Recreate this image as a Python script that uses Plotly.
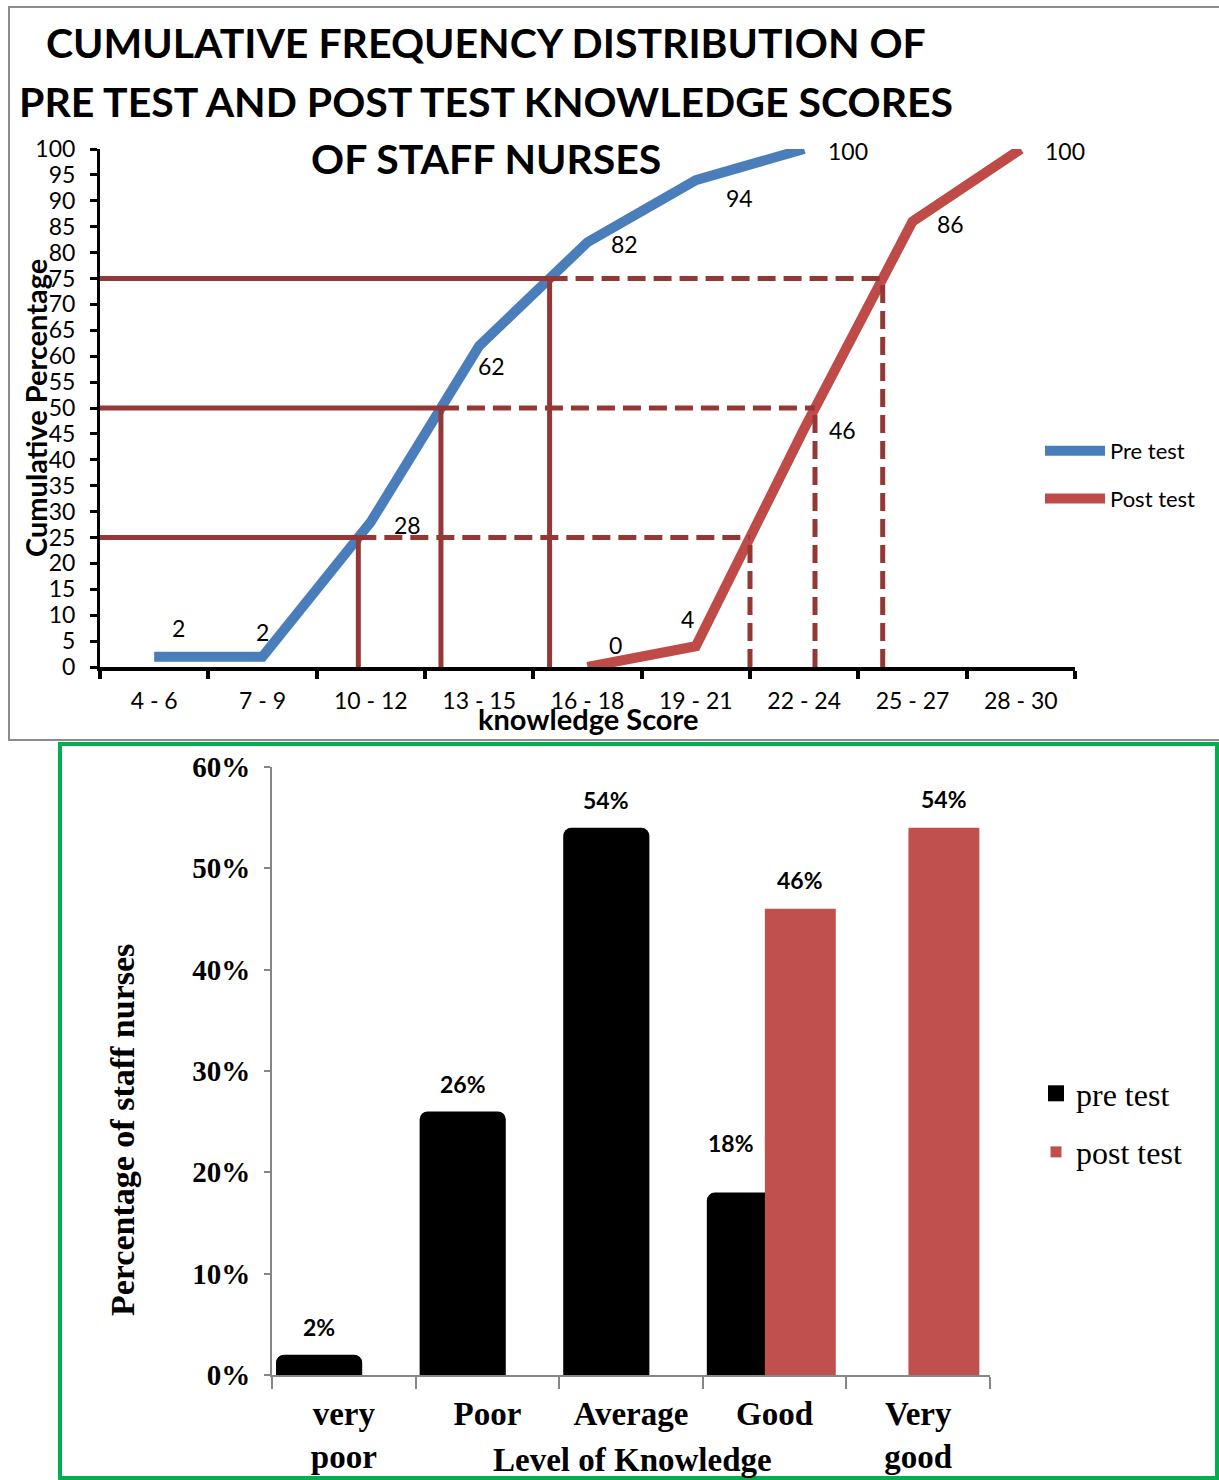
import numpy as np
import plotly.graph_objects as go

W, H = 1219, 1480

# ---- cumulative frequency data (top chart) ----
score_ranges = ["4 - 6", "7 - 9", "10 - 12", "13 - 15", "16 - 18",
                "19 - 21", "22 - 24", "25 - 27", "28 - 30"]
pre_cum = [2, 2, 28, 62, 82, 94, 100, None, None]
post_cum = [None, None, None, None, 0, 4, 46, 86, 100]
quartile_levels = [25, 50, 75]

# ---- level of knowledge data (bottom chart) ----
knowledge_levels = ["very<br>poor", "Poor", "Average", "Good", "Very<br>good"]
pre_pct = [2, 26, 54, 18, None]
post_pct = [None, None, None, 46, 54]

BLUE = "#4A7EBB"
RED = "#BE4B48"
BAR_RED = "#C0504D"
REF = "#953735"
SANS = "Lato"
SERIF = "Liberation Serif"


def px(x):
    return x / W


def py(y):
    return 1 - y / H


fig = go.Figure()

# ---------------- top chart ----------------
fig.add_trace(go.Scatter(
    x=score_ranges, y=pre_cum, mode="lines", name="Pre test",
    line=dict(color=BLUE, width=10), legend="legend", legendgroup="pre",
    xaxis="x", yaxis="y", connectgaps=False))
fig.add_trace(go.Scatter(
    x=score_ranges, y=post_cum, mode="lines", name="Post test",
    line=dict(color=RED, width=10), legend="legend", legendgroup="post",
    xaxis="x", yaxis="y", connectgaps=False))

# value labels beside the line vertices (pixel nudges)
pre_label_shift = [(24, 29), (0, 25), (37, -3), (12, -20), (37, -2), (44, -18), (44, -2)]
post_label_shift = [(28, 22), (-8, 27), (38, -1), (38, -2), (44, -2)]

annotations = []
pre_idx = [i for i, v in enumerate(pre_cum) if v is not None]
post_idx = [i for i, v in enumerate(post_cum) if v is not None]
for (dx, dy), i in zip(pre_label_shift, pre_idx):
    annotations.append(dict(x=i, y=pre_cum[i], xref="x", yref="y", text=str(pre_cum[i]),
                            showarrow=False, xshift=dx, yshift=dy,
                            font=dict(family=SANS, size=23, color="black")))
for (dx, dy), i in zip(post_label_shift, post_idx):
    annotations.append(dict(x=i, y=post_cum[i], xref="x", yref="y", text=str(post_cum[i]),
                            showarrow=False, xshift=dx, yshift=dy,
                            font=dict(family=SANS, size=23, color="black")))

pre_x = np.array(pre_idx, dtype=float)
pre_y = np.array([pre_cum[i] for i in pre_idx], dtype=float)
post_x = np.array(post_idx, dtype=float)
post_y = np.array([post_cum[i] for i in post_idx], dtype=float)

shapes = []
for lvl in quartile_levels:
    xa = float(np.interp(lvl, pre_y, pre_x))
    xb = float(np.interp(lvl, post_y, post_x))
    solid = dict(color=REF, width=5)
    dashed = dict(color=REF, width=5, dash="18px,8px")
    shapes.append(dict(type="line", xref="x", yref="y", x0=-0.5, x1=xa, y0=lvl, y1=lvl, line=solid))
    shapes.append(dict(type="line", xref="x", yref="y", x0=xa, x1=xb, y0=lvl, y1=lvl, line=dashed))
    shapes.append(dict(type="line", xref="x", yref="y", x0=xa, x1=xa, y0=0, y1=lvl, line=solid))
    shapes.append(dict(type="line", xref="x", yref="y", x0=xb, x1=xb, y0=0, y1=lvl, line=dashed))

# ---------------- bottom chart ----------------
PRE_OFF, PRE_W = -0.472, 0.60
POST_OFF, POST_W = -0.068, 0.494

fig.add_trace(go.Bar(
    x=knowledge_levels, y=pre_pct, name="pre test", xaxis="x2", yaxis="y2",
    marker=dict(color="#000000", cornerradius=8, line=dict(width=0)),
    offset=PRE_OFF, width=PRE_W, legendgroup="b_pre", showlegend=False))
fig.add_trace(go.Bar(
    x=knowledge_levels, y=post_pct, name="post test", xaxis="x2", yaxis="y2",
    marker=dict(color=BAR_RED, line=dict(width=0)),
    offset=POST_OFF, width=POST_W, legendgroup="b_post", showlegend=False))

# legend keys for the bars (square swatches)
fig.add_trace(go.Scatter(
    x=[None], y=[None], mode="markers", name="pre test", xaxis="x2", yaxis="y2",
    marker=dict(symbol="square", size=16, color="#000000"),
    legend="legend2", legendgroup="b_pre"))
fig.add_trace(go.Scatter(
    x=[None], y=[None], mode="markers", name="post test", xaxis="x2", yaxis="y2",
    marker=dict(symbol="square", size=11, color=BAR_RED),
    legend="legend2", legendgroup="b_post"))

for i, v in enumerate(pre_pct):
    if v is None:
        continue
    shared = post_pct[i] is not None
    annotations.append(dict(
        x=i + PRE_OFF + PRE_W / 2, y=v, xref="x2", yref="y2", text=f"{v}%",
        showarrow=False, yanchor="middle",
        xshift=-19 if shared else 0, yshift=50 if shared else 28,
        font=dict(family=SANS, size=23, color="black", weight="bold")))
for i, v in enumerate(post_pct):
    if v is None:
        continue
    annotations.append(dict(
        x=i + POST_OFF + POST_W / 2, y=v, xref="x2", yref="y2", text=f"{v}%",
        showarrow=False, yanchor="middle", yshift=29,
        font=dict(family=SANS, size=23, color="black", weight="bold")))

# titles
title_lines = ["CUMULATIVE FREQUENCY DISTRIBUTION OF",
               "PRE TEST AND POST TEST KNOWLEDGE SCORES",
               "OF STAFF NURSES"]
for line, yc in zip(title_lines, [42, 101, 159]):
    annotations.append(dict(x=px(486), y=py(yc), xref="paper", yref="paper", text=line,
                            showarrow=False, xanchor="center", yanchor="middle",
                            font=dict(family=SANS, size=41, color="black", weight="bold")))

annotations += [
    dict(x=px(35), y=py(408), xref="paper", yref="paper", text="Cumulative Percentage",
         textangle=-90, showarrow=False, xanchor="center", yanchor="middle",
         font=dict(family=SANS, size=29, color="black", weight="bold")),
    dict(x=px(588), y=py(718), xref="paper", yref="paper", text="knowledge Score",
         showarrow=False, xanchor="center", yanchor="middle",
         font=dict(family=SANS, size=29, color="black", weight="bold")),
    dict(x=px(122), y=py(1130), xref="paper", yref="paper", text="Percentage of staff nurses",
         textangle=-90, showarrow=False, xanchor="center", yanchor="middle",
         font=dict(family=SERIF, size=34, color="black", weight="bold")),
    dict(x=px(632), y=py(1460), xref="paper", yref="paper", text="Level of Knowledge",
         showarrow=False, xanchor="center", yanchor="middle",
         font=dict(family=SERIF, size=33, color="black", weight="bold")),
]

# panel frames
shapes += [
    dict(type="rect", xref="paper", yref="paper", x0=px(9), x1=px(1230), y0=py(740), y1=py(7),
         line=dict(color="#8C8C8C", width=2), layer="below"),
    dict(type="rect", xref="paper", yref="paper", x0=px(60), x1=px(1217), y0=py(1478), y1=py(744),
         line=dict(color="#00B050", width=4), layer="below"),
]

fig.update_layout(
    width=W, height=H,
    margin=dict(l=0, r=0, t=0, b=0, autoexpand=False),
    paper_bgcolor="white", plot_bgcolor="rgba(0,0,0,0)",
    barmode="overlay",
    showlegend=True,
    xaxis=dict(domain=[px(100), px(1075)], anchor="y", type="category", automargin=False,
               categoryorder="array", categoryarray=score_ranges, range=[-0.5, 8.5],
               showline=True, linecolor="black", linewidth=4, tickson="boundaries",
               ticks="outside", ticklen=8, tickwidth=4, tickcolor="black",
               ticklabelstandoff=10, showgrid=False, zeroline=False,
               tickfont=dict(family=SANS, size=23, color="black")),
    yaxis=dict(domain=[py(667), py(149)], anchor="x", range=[0, 100], dtick=5, automargin=False,
               showline=True, linecolor="black", linewidth=3,
               ticks="outside", ticklen=7, tickwidth=3, tickcolor="black",
               ticklabelstandoff=10, showgrid=False, zeroline=False,
               tickfont=dict(family=SANS, size=23, color="black")),
    xaxis2=dict(domain=[px(272), px(990)], anchor="y2", type="category", automargin=False,
                categoryorder="array", categoryarray=knowledge_levels, range=[-0.5, 4.5],
                showline=True, linecolor="#868686", linewidth=2, tickson="boundaries",
                ticks="outside", ticklen=12, tickwidth=2, tickcolor="#868686",
                ticklabelstandoff=8, showgrid=False, zeroline=False,
                tickfont=dict(family=SERIF, size=33, color="black", weight="bold")),
    yaxis2=dict(domain=[py(1375), py(767)], anchor="x2", range=[0, 60], dtick=10, automargin=False,
                ticksuffix="%", showline=True, linecolor="#868686", linewidth=2,
                ticks="outside", ticklen=6, tickwidth=2, tickcolor="#868686",
                ticklabelstandoff=8, showgrid=False, zeroline=False,
                tickfont=dict(family=SERIF, size=29, color="black", weight="bold")),
    legend=dict(x=px(1040), y=py(430), xanchor="left", yanchor="top",
                itemwidth=60, tracegroupgap=16, bgcolor="rgba(0,0,0,0)",
                font=dict(family=SANS, size=22, color="black")),
    legend2=dict(x=px(1036), y=py(1066), xanchor="left", yanchor="top",
                 itemwidth=30, tracegroupgap=14, bgcolor="rgba(0,0,0,0)",
                 font=dict(family=SERIF, size=32, color="black")),
    shapes=shapes,
    annotations=annotations,
)

fig.write_html("out.html")
